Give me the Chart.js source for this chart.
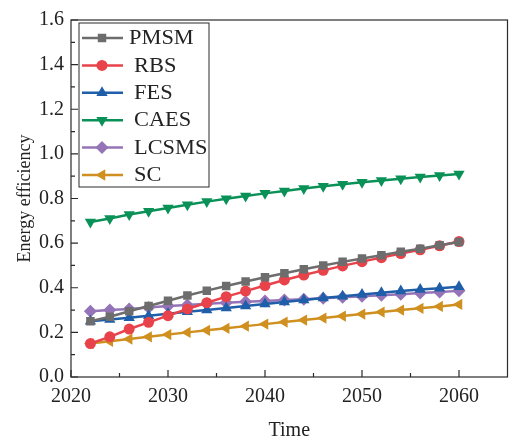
<!DOCTYPE html>
<html>
<head>
<meta charset="utf-8">
<script src="https://cdn.jsdelivr.net/npm/chart.js@4.4.0/dist/chart.umd.min.js"></script>
<style>
  html, body { margin: 0; padding: 0; background: #fff; }
  #wrap { position: relative; width: 514px; height: 439px; }
</style>
</head>
<body>
<div id="wrap"><canvas id="chart" width="514" height="439"></canvas></div>
<script>
// ---- data ----
const years = [2022, 2024, 2026, 2028, 2030, 2032, 2034, 2036, 2038, 2040,
               2042, 2044, 2046, 2048, 2050, 2052, 2054, 2056, 2058, 2060];

const pmsm  = [0.250, 0.270, 0.295, 0.318, 0.342, 0.365, 0.387, 0.408, 0.428, 0.447,
               0.465, 0.483, 0.500, 0.516, 0.531, 0.546, 0.561, 0.575, 0.590, 0.605];
const rbs   = [0.150, 0.180, 0.215, 0.245, 0.275, 0.305, 0.333, 0.360, 0.385, 0.410,
               0.435, 0.457, 0.478, 0.498, 0.517, 0.535, 0.553, 0.570, 0.588, 0.607];
const fes   = [0.250, 0.258, 0.266, 0.275, 0.283, 0.292, 0.300, 0.309, 0.318, 0.327,
               0.336, 0.345, 0.354, 0.362, 0.370, 0.378, 0.385, 0.392, 0.398, 0.405];
const caes  = [0.695, 0.710, 0.728, 0.743, 0.757, 0.772, 0.786, 0.799, 0.811, 0.823,
               0.834, 0.845, 0.855, 0.864, 0.873, 0.881, 0.889, 0.896, 0.903, 0.910];
const lcsms = [0.295, 0.300, 0.305, 0.312, 0.318, 0.323, 0.328, 0.333, 0.337, 0.341,
               0.345, 0.349, 0.353, 0.357, 0.362, 0.366, 0.371, 0.376, 0.381, 0.386];
const sc    = [0.150, 0.160, 0.170, 0.180, 0.190, 0.200, 0.209, 0.218, 0.228, 0.237,
               0.246, 0.255, 0.264, 0.273, 0.282, 0.291, 0.300, 0.308, 0.316, 0.325];

const xMajor = [2020, 2030, 2040, 2050, 2060];
const xMinor = [2025, 2035, 2045, 2055];
const yMajor = [0, 0.2, 0.4, 0.6, 0.8, 1.0, 1.2, 1.4, 1.6];
const yMinor = [0.1, 0.3, 0.5, 0.7, 0.9, 1.1, 1.3, 1.5];

const FONT = '"Liberation Serif", "DejaVu Serif", serif';

function series(label, values, color, style, rotation, radius) {
  return {
    label: label,
    data: years.map((y, i) => ({ x: y, y: values[i] })),
    borderColor: color,
    backgroundColor: color,
    borderWidth: 2.5,
    pointStyle: style,
    rotation: rotation || 0,
    pointRadius: radius,
    pointHoverRadius: radius,
    pointBorderWidth: 0,
    tension: 0
  };
}

const datasets = [
  series('PMSM',  pmsm,  '#6d6d6d', 'rect', 0, 6),
  series('RBS',   rbs,   '#e8424b', 'circle', 0, 5.5),
  series('FES',   fes,   '#1f5ea8', 'triangle', 0, 6.5),
  series('CAES',  caes,  '#0a9157', 'triangle', 180, 6.5),
  series('LCSMS', lcsms, '#9474b7', 'rectRot', 0, 6.5),
  series('SC',    sc,    '#d0901f', 'triangle', 270, 6.5)
];

// ---- frame, inward ticks and legend box ----
const framePlugin = {
  id: 'frame',
  afterDraw(chart) {
    const ctx = chart.ctx;
    const a = chart.chartArea;
    const xs = chart.scales.x, ys = chart.scales.y;
    ctx.save();
    ctx.strokeStyle = '#2a2a2a';
    ctx.lineWidth = 1.2;
    ctx.strokeRect(a.left, a.top, a.right - a.left, a.bottom - a.top);
    ctx.beginPath();
    xMajor.forEach(v => { const p = xs.getPixelForValue(v); ctx.moveTo(p, a.bottom); ctx.lineTo(p, a.bottom - 7); });
    xMinor.forEach(v => { const p = xs.getPixelForValue(v); ctx.moveTo(p, a.bottom); ctx.lineTo(p, a.bottom - 4); });
    yMajor.forEach(v => { const p = ys.getPixelForValue(v); ctx.moveTo(a.left, p); ctx.lineTo(a.left + 7, p); });
    yMinor.forEach(v => { const p = ys.getPixelForValue(v); ctx.moveTo(a.left, p); ctx.lineTo(a.left + 4, p); });
    ctx.stroke();

    // legend box
    const bx = 79, by = 23, bw = 130, bh = 164, row = 27.4;
    ctx.fillStyle = '#fff';
    ctx.fillRect(bx, by, bw, bh);
    ctx.strokeStyle = '#2a2a2a';
    ctx.lineWidth = 1;
    ctx.strokeRect(bx, by, bw, bh);
    ctx.font = '20px ' + FONT;
    ctx.textBaseline = 'middle';
    chart.data.datasets.forEach((ds, i) => {
      const cy = by + 15 + i * row;
      ctx.strokeStyle = ds.borderColor;
      ctx.lineWidth = 2.5;
      ctx.beginPath();
      ctx.moveTo(bx + 3, cy);
      ctx.lineTo(bx + 44, cy);
      ctx.stroke();
      ctx.fillStyle = ds.backgroundColor;
      Chart.helpers.drawPoint(ctx, { pointStyle: ds.pointStyle, rotation: ds.rotation, radius: ds.pointRadius, borderWidth: 0 }, bx + 23, cy);
      ctx.fillStyle = '#222';
      // stretch text sideways a little, like the reference
      ctx.save();
      ctx.translate(i === 0 ? bx + 50 : bx + 55, cy + 1);
      ctx.scale(1.12, 1);
      ctx.fillText(ds.label, 0, 0);
      ctx.restore();
    });
    ctx.restore();
  }
};

new Chart(document.getElementById('chart'), {
  type: 'line',
  data: { datasets: datasets },
  options: {
    responsive: false,
    animation: false,
    layout: { padding: { top: 20, right: 1, left: 0, bottom: 0 } },
    plugins: { legend: { display: false }, tooltip: { enabled: false } },
    scales: {
      x: {
        type: 'linear',
        min: 2020,
        max: 2065,
        afterBuildTicks: s => { s.ticks = xMajor.map(v => ({ value: v })); },
        afterFit: s => { s.height = 62; },
        grid: { display: false, drawTicks: false },
        border: { display: false },
        ticks: { color: '#222', padding: 8, font: { family: FONT, size: 20 }, callback: v => String(v) },
        title: { display: true, text: 'Time', color: '#222', padding: { top: 14, bottom: -2 }, font: { family: FONT, size: 20, lineHeight: 1 } }
      },
      y: {
        min: 0,
        max: 1.6,
        afterBuildTicks: s => { s.ticks = yMajor.map(v => ({ value: v })); },
        afterFit: s => { s.width = 71; },
        grid: { display: false, drawTicks: false },
        border: { display: false },
        ticks: { color: '#222', padding: 7, font: { family: FONT, size: 20 }, callback: v => v.toFixed(1) },
        title: { display: true, text: 'Energy efficiency', color: '#222', padding: { top: 14, bottom: 0 }, font: { family: FONT, size: 18 } }
      }
    }
  },
  plugins: [framePlugin]
});
</script>
</body>
</html>
